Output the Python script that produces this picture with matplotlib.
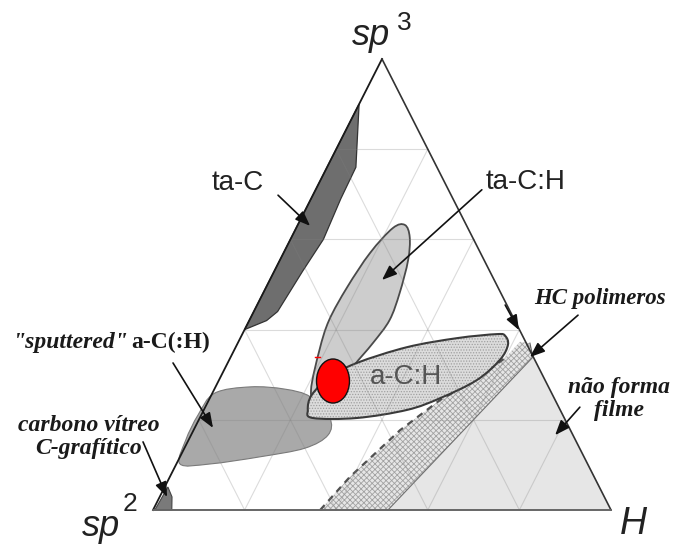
import numpy as np
import matplotlib
matplotlib.use("Agg")
import matplotlib.pyplot as plt
from matplotlib.path import Path
from matplotlib.patches import PathPatch, Polygon, Ellipse

plt.rcParams["hatch.linewidth"] = 0.6

# ---- region outlines as ternary compositions (sp3 fraction, H fraction); sp2 = 1 - sp3 - H ----
ta_c_sp3 = [0.90, 0.76, 0.69, 0.60, 0.53, 0.44, 0.42, 0.40]
ta_c_h = [0.00, 0.063, 0.065, 0.072, 0.062, 0.052, 0.038, 0.00]

ta_ch_sp3 = [0.632, 0.605, 0.554, 0.481, 0.421, 0.370, 0.317, 0.255, 0.228, 0.266, 0.355, 0.421, 0.494, 0.570, 0.625]
ta_ch_h = [0.234, 0.258, 0.280, 0.298, 0.306, 0.295, 0.278, 0.269, 0.243, 0.212, 0.186, 0.174, 0.177, 0.189, 0.211]

a_ch_sp3 = [0.204, 0.204, 0.222, 0.248, 0.288, 0.333, 0.366, 0.386, 0.390, 0.381, 0.361, 0.326, 0.295, 0.255, 0.222]
a_ch_h = [0.247, 0.343, 0.444, 0.503, 0.563, 0.591, 0.592, 0.576, 0.556, 0.473, 0.374, 0.282, 0.239, 0.219, 0.227]

sput_sp3 = [0.102, 0.155, 0.211, 0.259, 0.273, 0.268, 0.251, 0.204, 0.166, 0.137, 0.118, 0.102]
sput_h = [0.008, -0.006, -0.007, 0.005, 0.076, 0.154, 0.218, 0.284, 0.299, 0.263, 0.175, 0.073]

hc_sp3 = [0.0, 0.073, 0.177, 0.244, 0.288, 0.337, 0.373, 0.370, 0.339, 0.0]
hc_h = [0.365, 0.393, 0.451, 0.505, 0.559, 0.600, 0.615, 0.638, 0.660, 0.513]

nofilm_sp3 = [0.0, 0.339, 0.0]
nofilm_h = [0.513, 0.660, 1.0]

graph_sp3 = [0.0, 0.0, 0.029, 0.051]
graph_h = [0.004, 0.041, 0.027, 0.007]

sample_sp3 = 0.286
sample_h = 0.250

grid_levels = [0.2, 0.4, 0.6, 0.8]


def cart(sp3, h):
    sp3 = np.asarray(sp3, float)
    h = np.asarray(h, float)
    return np.column_stack([h + sp3 / 2.0, sp3])


def smooth_closed(pts):
    pts = np.asarray(pts, float)
    n = len(pts)
    verts = [pts[0]]
    codes = [Path.MOVETO]
    for i in range(n):
        p0 = pts[(i - 1) % n]
        p1 = pts[i]
        p2 = pts[(i + 1) % n]
        p3 = pts[(i + 2) % n]
        verts += [p1 + (p2 - p0) / 6.0, p2 - (p3 - p1) / 6.0, p2]
        codes += [Path.CURVE4] * 3
    verts.append(pts[0])
    codes.append(Path.CLOSEPOLY)
    return Path(verts, codes)


fig = plt.figure(figsize=(6.73, 5.45), dpi=100)
ax = fig.add_axes([0, 0, 1, 1])
ax.set_xlim(-0.3341, 1.1354)
ax.set_ylim(-0.0776, 1.1308)
ax.axis("off")

# no-film region
ax.add_patch(Polygon(cart(nofilm_sp3, nofilm_h), closed=True, facecolor="#e6e6e6", edgecolor="none", zorder=1))

# HC polymer band
hc = cart(hc_sp3, hc_h)
ax.add_patch(Polygon(hc, closed=True, facecolor="#e6e6e6", edgecolor="none", zorder=2))
ax.add_patch(Polygon(hc, closed=True, facecolor="none", edgecolor="#a2a2a2", hatch="xxxxxx", linewidth=0, zorder=2.1))
ax.plot(hc[:6, 0], hc[:6, 1], color="#505050", lw=1.6, ls=(0, (3, 2.5)), zorder=2.2)
ax.plot(hc[7:9, 0], hc[7:9, 1], color="#606060", lw=0.8, zorder=2.2)
ax.plot([hc[8, 0], hc[9, 0]], [hc[8, 1], hc[9, 1]], color="#707070", lw=0.8, zorder=2.2)

# sputtered a-C(:H)
ax.add_patch(PathPatch(smooth_closed(cart(sput_sp3, sput_h)), facecolor="#a9a9a9", edgecolor="#7a7a7a", lw=0.8, zorder=3))

# graphitic corner
ax.add_patch(Polygon(cart(graph_sp3, graph_h), closed=True, facecolor="#7a7a7a", edgecolor="#444444", lw=0.8, zorder=3))

# ta-C
ax.add_patch(Polygon(cart(ta_c_sp3, ta_c_h), closed=True, facecolor="#6e6e6e", edgecolor="#333333", lw=0.9, zorder=4))

# ta-C:H
ax.add_patch(PathPatch(smooth_closed(cart(ta_ch_sp3, ta_ch_h)), facecolor="#cdcdcd", edgecolor="#4a4a4a", lw=1.3, zorder=4))

# a-C:H
ach_path = smooth_closed(cart(a_ch_sp3, a_ch_h))
ax.add_patch(PathPatch(ach_path, facecolor="#dcdcdc", edgecolor="none", zorder=5))
ax.add_patch(PathPatch(ach_path, facecolor="none", edgecolor="#a0a0a0", hatch="......", lw=0, zorder=5.1))
ax.add_patch(PathPatch(ach_path, facecolor="none", edgecolor="#3a3a3a", lw=1.5, zorder=5.2))

# grid
for k in grid_levels:
    for seg in (cart([k, k], [0, 1 - k]), cart([0, 1 - k], [k, k]), cart([0, 1 - k], [1 - k, 0])):
        ax.plot(seg[:, 0], seg[:, 1], color="#808080", alpha=0.28, lw=0.8, zorder=6)

# triangle frame
corners = cart([0, 1, 0], [0, 0, 1])
ax.plot([corners[0, 0], corners[1, 0]], [corners[0, 1], corners[1, 1]], color="#1a1a1a", lw=1.3, zorder=7)
ax.plot([corners[1, 0], corners[2, 0]], [corners[1, 1], corners[2, 1]], color="#333333", lw=1.2, zorder=7)
ax.plot([corners[0, 0], corners[2, 0]], [corners[0, 1], corners[2, 1]], color="#666666", lw=1.4, zorder=7)

# sample marker
sx, sy = cart([sample_sp3], [sample_h])[0]
ax.add_patch(Ellipse((sx, sy), 0.072, 0.0976, facecolor="#ff0000", edgecolor="#111111", lw=1.0, zorder=9))
ax.plot([0.354, 0.365], [0.339, 0.339], color="#ff0000", lw=1.0, zorder=9)

# labels
sans = "Liberation Sans"
serif = "Liberation Serif"
ax.text(0.476, 1.051, "sp", fontsize=26, fontstyle="italic", family=sans, ha="center", va="center", color="#222222")
ax.text(0.548, 1.080, "3", fontsize=19, family=sans, ha="center", va="center", color="#222222")
ax.text(-0.1135, -0.036, "sp", fontsize=26, fontstyle="italic", family=sans, ha="center", va="center", color="#222222")
ax.text(-0.050, 0.0133, "2", fontsize=19, family=sans, ha="center", va="center", color="#222222")
ax.text(1.048, -0.031, "H", fontsize=27, fontstyle="italic", family=sans, ha="center", va="center", color="#222222")

ax.text(0.186, 0.725, "ta-C", fontsize=20, family=sans, ha="center", va="center", color="#222222")
ax.text(0.814, 0.727, "ta-C:H", fontsize=20, family=sans, ha="center", va="center", color="#222222")
ax.text(0.552, 0.295, "a-C:H", fontsize=20, family=sans, ha="center", va="center", color="#555555", zorder=8)

ax.text(0.976, 0.468, "HC polimeros", fontsize=16.5, family=serif, fontstyle="italic", fontweight="bold",
        ha="center", va="center", color="#1a1a1a")
ax.text(1.017, 0.246, "não forma\nfilme", fontsize=17, family=serif, fontstyle="italic", fontweight="bold",
        ha="center", va="center", multialignment="center", linespacing=1.15, color="#1a1a1a")
ax.text(-0.3057, 0.3725, "\"sputtered\"", fontsize=17, family=serif, fontstyle="italic", fontweight="bold",
        ha="left", va="center", color="#1a1a1a")
ax.text(0.1245, 0.3725, "a-C(:H)", fontsize=17, family=serif, fontweight="bold",
        ha="right", va="center", color="#1a1a1a")
ax.text(-0.141, 0.162, "carbono vítreo\nC-grafítico", fontsize=17, family=serif, fontstyle="italic", fontweight="bold",
        ha="center", va="center", multialignment="center", linespacing=1.15, color="#1a1a1a")

arrow = dict(arrowstyle="-|>,head_length=0.9,head_width=0.35", color="#111111", lw=1.2, shrinkA=0, shrinkB=0)
for start, end in [((0.273, 0.698), (0.343, 0.630)),
                   ((0.718, 0.710), (0.500, 0.510)),
                   ((0.928, 0.432), (0.823, 0.339)),
                   ((0.769, 0.4545), (0.799, 0.399)),
                   ((0.932, 0.228), (0.878, 0.166)),
                   ((0.0437, 0.326), (0.131, 0.182)),
                   ((-0.0218, 0.151), (0.0306, 0.0288))]:
    ax.annotate("", xy=end, xytext=start, arrowprops=arrow, zorder=10)

fig.savefig("out.png", dpi=100)
